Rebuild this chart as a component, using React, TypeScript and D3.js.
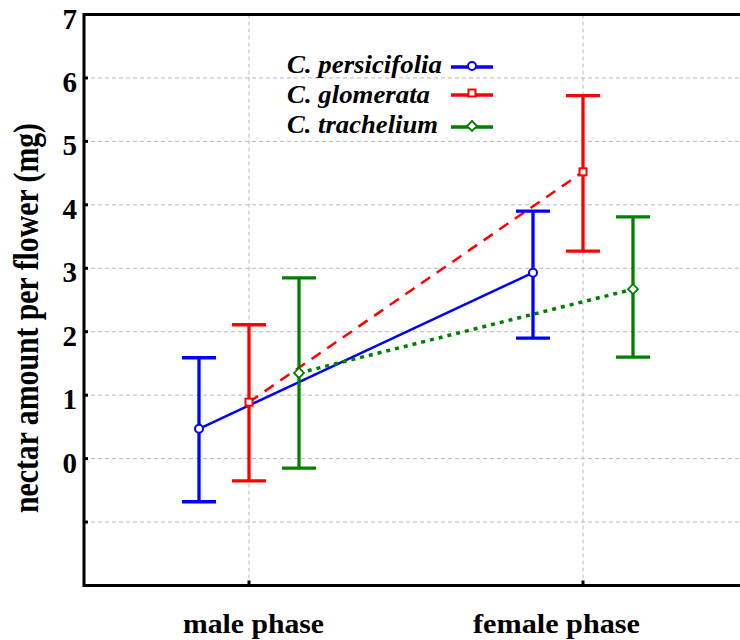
import React from "react";
import * as d3 from "d3";

const categories = ["male phase", "female phase"];
const seriesNames = ["C. persicifolia", "C. glomerata", "C. trachelium"];
const seriesColors = ["#0000ff", "#ff0000", "#008000"];
const seriesMarkers = ["circle", "square", "diamond"];
const seriesDash = [null, "11,8", "4,5"];
const persicifoliaMean = [0.47, 2.93];
const persicifoliaUpper = [1.59, 3.9];
const persicifoliaLower = [-0.68, 1.9];
const glomerataMean = [0.89, 4.52];
const glomerataUpper = [2.11, 5.72];
const glomerataLower = [-0.35, 3.27];
const tracheliumMean = [1.35, 2.67];
const tracheliumUpper = [2.85, 3.81];
const tracheliumLower = [-0.15, 1.6];
const yTicks = [-1, 0, 1, 2, 3, 4, 5, 6, 7];
const yTickLabels = ["", "0", "1", "2", "3", "4", "5", "6", "7"];
const yTitle = "nectar amount per flower (mg)";

const means = [persicifoliaMean, glomerataMean, tracheliumMean];
const uppers = [persicifoliaUpper, glomerataUpper, tracheliumUpper];
const lowers = [persicifoliaLower, glomerataLower, tracheliumLower];

const W = 740, H = 640;
const left = 84, top = 14.5, bottom = 585.5, right = 760;

export default function App() {
  const y = d3.scaleLinear().domain([-2, 7]).range([bottom, top]);
  const x = d3.scalePoint<string>().domain(categories).range([249, 583]);
  const offset = d3.scalePoint<string>().domain(seriesNames).range([-50, 50]);
  const line = d3.line<[number, number]>().x(d => d[0]).y(d => d[1]);
  const capW = 17;
  const serif = "Liberation Serif";

  const marker = (kind: string, cx: number, cy: number, color: string, key: string) => {
    if (kind === "circle") return <circle key={key} cx={cx} cy={cy} r={4} fill="#fff" stroke={color} strokeWidth={2} />;
    if (kind === "square") return <rect key={key} x={cx - 3.5} y={cy - 3.5} width={7} height={7} fill="#fff" stroke={color} strokeWidth={2} />;
    const s = 5;
    return <path key={key} d={`M${cx},${cy - s}L${cx + s},${cy}L${cx},${cy + s}L${cx - s},${cy}Z`} fill="#fff" stroke={color} strokeWidth={1.8} />;
  };

  return (
    <svg width={W} height={H} style={{ position: "absolute", left: 0, top: 0, background: "#fff" }}>
      {yTicks.filter(t => t < 7).map(t => (
        <line key={"gy" + t} x1={left} x2={right} y1={y(t)} y2={y(t)} stroke="#b8b8b8" strokeWidth={1} strokeDasharray="4,3" />
      ))}
      {categories.map(c => (
        <line key={"gx" + c} x1={x(c)} x2={x(c)} y1={top} y2={bottom} stroke="#b8b8b8" strokeWidth={1} strokeDasharray="4,3" />
      ))}
      {seriesNames.map((s, i) => {
        const pts = categories.map((c, j) => [(x(c) as number) + (offset(s) as number), y(means[i][j])] as [number, number]);
        return (
          <path key={"l" + s} d={line(pts) as string} fill="none" stroke={seriesColors[i]}
            strokeWidth={i === 2 ? 3.5 : 2.5} strokeDasharray={seriesDash[i] || undefined} />
        );
      })}
      {seriesNames.map((s, i) => categories.map((c, j) => {
        const cx = (x(c) as number) + (offset(s) as number);
        return (
          <g key={"e" + s + c} stroke={seriesColors[i]} strokeWidth={3.3}>
            <line x1={cx} x2={cx} y1={y(uppers[i][j])} y2={y(lowers[i][j])} />
            <line x1={cx - capW} x2={cx + capW} y1={y(uppers[i][j])} y2={y(uppers[i][j])} />
            <line x1={cx - capW} x2={cx + capW} y1={y(lowers[i][j])} y2={y(lowers[i][j])} />
          </g>
        );
      }))}
      {seriesNames.map((s, i) => categories.map((c, j) =>
        marker(seriesMarkers[i], (x(c) as number) + (offset(s) as number), y(means[i][j]), seriesColors[i], "m" + s + c)
      ))}
      <path d={`M${right},${top}H${left}V${bottom}H${right}`} fill="none" stroke="#000" strokeWidth={3} />
      {yTicks.filter(t => t < 7).map(t => (
        <line key={"ty" + t} x1={left} x2={left + 4} y1={y(t)} y2={y(t)} stroke="#000" strokeWidth={3} />
      ))}
      {categories.map(c => (
        <line key={"tx" + c} x1={x(c)} x2={x(c)} y1={bottom} y2={bottom - 5} stroke="#000" strokeWidth={3} />
      ))}
      {yTicks.map((t, i) => (
        <text key={"yl" + t} x={77} y={y(t) + 4} textAnchor="end" dominantBaseline="central"
          style={{ fontFamily: serif, fontWeight: "bold", fontSize: 29 }} fill="#000">{yTickLabels[i]}</text>
      ))}
      {categories.map((c, i) => (
        <text key={"xl" + c} x={i === 0 ? 253.5 : 556.5} y={633} textAnchor="middle"
          style={{ fontFamily: serif, fontWeight: "bold", fontSize: 27 }} fill="#000"
          textLength={i === 0 ? 141 : 167} lengthAdjust="spacingAndGlyphs">{c}</text>
      ))}
      <text transform={`translate(38,318) scale(1.4,1) rotate(-90)`} textAnchor="middle"
        style={{ fontFamily: serif, fontWeight: "bold", fontSize: 26 }} fill="#000"
        textLength={390} lengthAdjust="spacingAndGlyphs">{yTitle}</text>
      {seriesNames.map((s, i) => {
        const ly = [67, 95, 127][i];
        const by = [73, 103, 133][i];
        const ends = [442, 430, 438][i];
        return (
          <g key={"lg" + s}>
            <text x={287} y={by} style={{ fontFamily: serif, fontStyle: "italic", fontWeight: "bold", fontSize: 26 }} fill="#000"
              textLength={ends - 287} lengthAdjust="spacingAndGlyphs">{s}</text>
            <line x1={451} x2={493} y1={ly} y2={ly} stroke={seriesColors[i]} strokeWidth={3.5} />
            {marker(seriesMarkers[i], 472, ly - (i === 1 ? 2 : 1), seriesColors[i], "lm" + s)}
          </g>
        );
      })}
    </svg>
  );
}
